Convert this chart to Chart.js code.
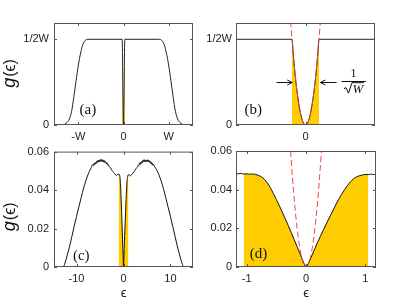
<!DOCTYPE html>
<html>
<head>
<meta charset="utf-8">
<script src="https://cdn.jsdelivr.net/npm/chart.js@4"></script>
<style>
  body { margin: 0; background: #fff; width: 415px; height: 301px; position: relative; overflow: hidden; }
  canvas { position: absolute; }
</style>
</head>
<body>
<canvas id="pa" width="205" height="148" style="left:0;top:0"></canvas>
<canvas id="pb" width="215" height="148" style="left:200px;top:0"></canvas>
<canvas id="pc" width="205" height="161" style="left:0;top:140px"></canvas>
<canvas id="pd" width="215" height="161" style="left:200px;top:140px"></canvas>
<script>
// (a) eps in units of W, g in units of 1/2W
var aEps = [-1.54, -1.35, -1.3, -1.25, -1.2, -1.15, -1.1, -1.05, -1.0, -0.95, -0.9, -0.85, -0.8, -0.03, 0, 0.03, 0.8, 0.85, 0.9, 0.95, 1.0, 1.05, 1.1, 1.15, 1.2, 1.25, 1.3, 1.35, 1.54];
var aG   = [0, 0, 0.01, 0.03, 0.07, 0.16, 0.33, 0.52, 0.70, 0.84, 0.94, 0.985, 1, 1, 0, 1, 1, 0.985, 0.94, 0.84, 0.70, 0.52, 0.33, 0.16, 0.07, 0.03, 0.01, 0, 0];
var aFillEps = [-0.03, 0, 0.03];
var aFillG   = [1, 0, 1];

// (b) zoom on the gap, eps in units of the gap half-width
var bEps = [-5.15, -1.0, -0.9, -0.8, -0.7, -0.6, -0.5, -0.4, -0.3, -0.2, -0.1, 0, 0.1, 0.2, 0.3, 0.4, 0.5, 0.6, 0.7, 0.8, 0.9, 1.0, 5.15];
var bG   = [1, 1, 0.81, 0.64, 0.49, 0.36, 0.25, 0.16, 0.09, 0.04, 0.01, 0, 0.01, 0.04, 0.09, 0.16, 0.25, 0.36, 0.49, 0.64, 0.81, 1, 1];
var bParEps = [-1.1, -1.0, -0.9, -0.8, -0.7, -0.6, -0.5, -0.4, -0.3, -0.2, -0.1, 0, 0.1, 0.2, 0.3, 0.4, 0.5, 0.6, 0.7, 0.8, 0.9, 1.0, 1.1];
var bParG   = [1.21, 1, 0.81, 0.64, 0.49, 0.36, 0.25, 0.16, 0.09, 0.04, 0.01, 0, 0.01, 0.04, 0.09, 0.16, 0.25, 0.36, 0.49, 0.64, 0.81, 1, 1.21];

// (c)/(d) numerical density of states, left band / gap region / right band
var leftEps = [-14.8, -13.0, -12.7, -12.4, -12.0, -11.5, -11.0, -10.5, -10.0, -9.5, -9.0, -8.5, -8.0, -7.5, -7.0,
  -6.5, -6.375, -6.25, -6.125, -6.0, -5.875, -5.75, -5.625, -5.5, -5.375, -5.25, -5.125, -5.0, -4.875, -4.75, -4.625, -4.5, -4.375, -4.25, -4.125, -4.0, -3.875, -3.75, -3.625, -3.5, -3.375, -3.25, -3.125, -3.0,
  -2.75, -2.5, -2.25, -2.0, -1.75, -1.5, -1.35];
var leftG = [0, 0, 0.0005, 0.0025, 0.006, 0.0105, 0.0158, 0.0212, 0.0263, 0.0313, 0.0362, 0.0410, 0.0450, 0.0484, 0.0510,
  0.0532, 0.0527, 0.0540, 0.0532, 0.0543, 0.0536, 0.0549, 0.0543, 0.0554, 0.0545, 0.0555, 0.0546, 0.0558, 0.0549, 0.0559, 0.0550, 0.0558, 0.0546, 0.0555, 0.0544, 0.0553, 0.0541, 0.0545, 0.0535, 0.0542, 0.0530, 0.0533, 0.0523, 0.0522,
  0.0515, 0.0503, 0.0497, 0.0487, 0.0482, 0.0475, 0.0478];
var coreEps = [-1.2, -1.15, -1.1, -1.05, -1.0, -0.95, -0.9, -0.85, -0.8, -0.75, -0.7, -0.65, -0.6, -0.55, -0.5, -0.45, -0.4, -0.35, -0.3, -0.25, -0.2, -0.15, -0.1, -0.05,
  0, 0.05, 0.1, 0.15, 0.2, 0.25, 0.3, 0.35, 0.4, 0.45, 0.5, 0.55, 0.6, 0.65, 0.7, 0.75, 0.8, 0.85, 0.9, 0.95, 1.0, 1.05, 1.1, 1.15, 1.2];
var coreG = [0.0483, 0.0482, 0.0484, 0.0481, 0.0482, 0.0480, 0.0481, 0.0479, 0.0474, 0.0466, 0.0453, 0.0434, 0.0410, 0.0380, 0.0349, 0.0317, 0.0284, 0.0250, 0.0215, 0.0179, 0.0142, 0.0105, 0.0068, 0.0030,
  0.0003, 0.0025, 0.0060, 0.0096, 0.0131, 0.0164, 0.0196, 0.0228, 0.0259, 0.0290, 0.0321, 0.0350, 0.0376, 0.0400, 0.0422, 0.0441, 0.0456, 0.0466, 0.0472, 0.0476, 0.0479, 0.0478, 0.0480, 0.0478, 0.0480];
var rightEps = [1.35, 1.5, 1.75, 2.0, 2.25, 2.5, 2.75,
  3.0, 3.125, 3.25, 3.375, 3.5, 3.625, 3.75, 3.875, 4.0, 4.125, 4.25, 4.375, 4.5, 4.625, 4.75, 4.875, 5.0, 5.125, 5.25, 5.375, 5.5, 5.625, 5.75, 5.875, 6.0, 6.125, 6.25, 6.375, 6.5,
  7.0, 7.5, 8.0, 8.5, 9.0, 9.5, 10.0, 10.5, 11.0, 11.5, 12.0, 12.4, 12.7, 13.0, 14.8];
var rightG = [0.0477, 0.0474, 0.0481, 0.0488, 0.0496, 0.0505, 0.0514,
  0.0522, 0.0530, 0.0527, 0.0539, 0.0533, 0.0546, 0.0537, 0.0548, 0.0541, 0.0554, 0.0547, 0.0558, 0.0548, 0.0557, 0.0547, 0.0556, 0.0548, 0.0558, 0.0547, 0.0555, 0.0545, 0.0552, 0.0539, 0.0546, 0.0534, 0.0540, 0.0529, 0.0535, 0.0527,
  0.0508, 0.0482, 0.0448, 0.0408, 0.0360, 0.0311, 0.0262, 0.0210, 0.0157, 0.0104, 0.0058, 0.0024, 0.0005, 0, 0];
var cEps = leftEps.concat(coreEps, rightEps);
var cG = leftG.concat(coreG, rightG);
var gapEdge = 1.05;
var dParEps = [-0.27, -0.24, -0.21, -0.18, -0.15, -0.12, -0.09, -0.06, -0.03, 0, 0.03, 0.06, 0.09, 0.12, 0.15, 0.18, 0.21, 0.24, 0.27];
var dParG   = [0.0647, 0.0511, 0.0392, 0.0288, 0.0200, 0.0128, 0.0072, 0.0032, 0.0008, 0, 0.0008, 0.0032, 0.0072, 0.0128, 0.0200, 0.0288, 0.0392, 0.0511, 0.0647];

// ticks
var aXTicks = [-1, 0, 1], aXLabels = ['-W', '0', 'W'];
var topYTicks = [0, 1], topYLabels = ['0', '1/2W'];
var bXTicks = [0], bXLabels = ['0'];
var cXTicks = [-10, 0, 10], cXLabels = ['-10', '0', '10'];
var dXTicks = [-1, 0, 1], dXLabels = ['-1', '0', '1'];
var botYTicks = [0, 0.02, 0.04, 0.06], botYLabels = ['0', '0.02', '0.04', '0.06'];

var GOLD = '#ffcc00', RED = '#f04848';
var tickFont = { family: 'Liberation Sans, Arial, sans-serif', size: 11 };

function pts(xs, ys) { return xs.map(function (x, i) { return { x: x, y: ys[i] }; }); }
function curve(xs, ys, color, dash) {
  return { data: pts(xs, ys), borderColor: color, borderWidth: 1, borderDash: dash || [], pointRadius: 0, fill: false, cubicInterpolationMode: 'monotone' };
}
function area(xs, ys) {
  return { data: pts(xs, ys), borderWidth: 0, pointRadius: 0, fill: 'origin', backgroundColor: GOLD, tension: 0 };
}

var framePlugin = {
  id: 'frame',
  afterDatasetsDraw: function (c) {
    var ctx = c.ctx, a = c.chartArea, sx = c.scales.x, sy = c.scales.y;
    ctx.save();
    ctx.strokeStyle = '#555';
    ctx.lineWidth = 1;
    ctx.strokeRect(a.left + 0.5, a.top + 0.5, a.right - a.left - 1, a.bottom - a.top - 1);
    ctx.beginPath();
    sx.ticks.forEach(function (t) {
      var p = Math.round(sx.getPixelForValue(t.value)) + 0.5;
      ctx.moveTo(p, a.bottom); ctx.lineTo(p, a.bottom - 3);
      ctx.moveTo(p, a.top); ctx.lineTo(p, a.top + 3);
    });
    sy.ticks.forEach(function (t) {
      var p = Math.round(sy.getPixelForValue(t.value)) + 0.5;
      ctx.moveTo(a.left, p); ctx.lineTo(a.left + 3, p);
      ctx.moveTo(a.right, p); ctx.lineTo(a.right - 3, p);
    });
    ctx.stroke();
    ctx.restore();
  }
};

function notePlugin(text, x, y) {
  return {
    id: 'note',
    afterDatasetsDraw: function (c) {
      var ctx = c.ctx;
      ctx.save();
      ctx.font = '15px "Liberation Serif", "Times New Roman", serif';
      ctx.fillStyle = '#111';
      ctx.textAlign = 'center';
      ctx.textBaseline = 'middle';
      ctx.fillText(text, c.scales.x.getPixelForValue(x), c.scales.y.getPixelForValue(y));
      ctx.restore();
    }
  };
}

function ylabPlugin(shift) {
  return {
    id: 'ylab',
    afterDraw: function (c) {
      var ctx = c.ctx, a = c.chartArea;
      var cy = (a.top + a.bottom) / 2 + shift;
      ctx.save();
      ctx.translate(15, cy);
      ctx.rotate(-Math.PI / 2);
      ctx.fillStyle = '#111';
      ctx.textBaseline = 'alphabetic';
      var f1 = 'italic 18px "Liberation Sans", Arial, sans-serif';
      var f2 = '16px "Liberation Sans", "DejaVu Sans", sans-serif';
      ctx.font = f1; var w1 = ctx.measureText('g').width;
      ctx.font = f2; var w2 = ctx.measureText('(\u03f5)').width;
      var x0 = -(w1 + w2) / 2;
      ctx.font = f1; ctx.fillText('g', x0, 0);
      ctx.font = f2; ctx.fillText('(\u03f5)', x0 + w1 + 1, 0);
      ctx.restore();
    }
  };
}

var gapPlugin = {
  id: 'gapNote',
  afterDatasetsDraw: function (c) {
    var ctx = c.ctx, sx = c.scales.x, sy = c.scales.y;
    function arrow(x0, x1, yv) {
      var y = Math.round(sy.getPixelForValue(yv)) + 0.5;
      var p0 = sx.getPixelForValue(x0), p1 = sx.getPixelForValue(x1);
      var d = p1 > p0 ? 1 : -1;
      ctx.beginPath();
      ctx.moveTo(p0, y); ctx.lineTo(p1, y);
      ctx.moveTo(p1 - d * 5, y - 2.5); ctx.lineTo(p1, y); ctx.lineTo(p1 - d * 5, y + 2.5);
      ctx.stroke();
    }
    ctx.save();
    ctx.strokeStyle = '#111'; ctx.fillStyle = '#111'; ctx.lineWidth = 1;
    arrow(-2.15, -0.98, 0.5);
    arrow(2.3, 1.1, 0.5);
    // 1/sqrt(W)
    var cx = sx.getPixelForValue(3.55);
    ctx.textAlign = 'center'; ctx.textBaseline = 'alphabetic';
    ctx.font = '12px "Liberation Serif", "Times New Roman", serif';
    ctx.fillText('1', cx, sy.getPixelForValue(0.564));
    var by = Math.round(sy.getPixelForValue(0.517)) + 0.5;
    ctx.beginPath(); ctx.moveTo(sx.getPixelForValue(2.67), by); ctx.lineTo(sx.getPixelForValue(4.47), by); ctx.stroke();
    ctx.font = 'italic 13px "Liberation Serif", "Times New Roman", serif';
    var ww = ctx.measureText('W').width;
    var yb = sy.getPixelForValue(0.377);
    var x0 = cx - (ww + 8) / 2;
    ctx.beginPath();
    ctx.moveTo(x0, yb - 4); ctx.lineTo(x0 + 2, yb - 5); ctx.lineTo(x0 + 4.5, yb + 0.5);
    ctx.lineTo(x0 + 8, yb - 10); ctx.lineTo(x0 + 9 + ww, yb - 10);
    ctx.stroke();
    ctx.textAlign = 'left';
    ctx.fillText('W', x0 + 8.5, yb);
    ctx.restore();
  }
};

function makeChart(id, o) {
  return new Chart(document.getElementById(id), {
    type: 'line',
    data: { datasets: o.datasets },
    options: {
      responsive: false,
      animation: false,
      devicePixelRatio: 1,
      layout: { padding: o.pad },
      plugins: { legend: { display: false }, tooltip: { enabled: false } },
      scales: {
        x: {
          type: 'linear', min: o.xMin, max: o.xMax,
          grid: { display: false, drawTicks: false }, border: { display: false },
          afterBuildTicks: function (s) { s.ticks = o.xTicks.map(function (v) { return { value: v }; }); },
          afterFit: function (s) { s.height = o.xH; },
          ticks: { padding: 5, color: '#222', font: tickFont, maxRotation: 0, autoSkip: false,
                   callback: function (v, i) { return o.xLabels[i]; } },
          title: { display: !!o.xTitle, text: '\u03f5', color: '#222', padding: 0,
                   font: { family: 'Liberation Sans, DejaVu Sans, sans-serif', size: 13 } }
        },
        y: {
          type: 'linear', min: o.yMin, max: o.yMax,
          grid: { display: false, drawTicks: false }, border: { display: false },
          afterBuildTicks: function (s) { s.ticks = o.yTicks.map(function (v) { return { value: v }; }); },
          afterFit: function (s) { s.width = o.yW; },
          ticks: { padding: o.yPad, color: '#222', font: tickFont, autoSkip: false,
                   callback: function (v, i) { return o.yLabels[i]; } }
        }
      }
    },
    plugins: [framePlugin].concat(o.plugins || [])
  });
}

function inGap(xs, ys) {
  var fx = [], fy = [];
  xs.forEach(function (x, i) { if (Math.abs(x) <= gapEdge + 1e-9) { fx.push(x); fy.push(ys[i]); } });
  return area(fx, fy);
}

makeChart('pa', {
  pad: { left: 0, top: 23, right: 12, bottom: 0 }, yW: 54, xH: 23, yPad: 5,
  xMin: -1.54, xMax: 1.54, yMin: 0, yMax: 1.19,
  xTicks: aXTicks, xLabels: aXLabels, yTicks: topYTicks, yLabels: topYLabels,
  datasets: [curve(aEps, aG, '#222'), area(aFillEps, aFillG)],
  plugins: [notePlugin('(a)', -0.79, 0.175), ylabPlugin(0)]
});

makeChart('pb', {
  pad: { left: 0, top: 23, right: 40, bottom: 0 }, yW: 36, xH: 23, yPad: 4,
  xMin: -5.15, xMax: 5.15, yMin: 0, yMax: 1.19,
  xTicks: bXTicks, xLabels: bXLabels, yTicks: topYTicks, yLabels: topYLabels,
  datasets: [curve(bParEps, bParG, RED, [6, 3]), curve(bEps, bG, '#222'), area(bEps.slice(1, -1), bG.slice(1, -1))],
  plugins: [notePlugin('(b)', -3.87, 0.175), gapPlugin]
});

makeChart('pc', {
  pad: { left: 0, top: 11, right: 12, bottom: 0 }, yW: 54, xH: 34, yPad: 5, xTitle: true,
  xMin: -14.8, xMax: 14.8, yMin: 0, yMax: 0.06,
  xTicks: cXTicks, xLabels: cXLabels, yTicks: botYTicks, yLabels: botYLabels,
  datasets: [curve(cEps, cG, '#111'), inGap(cEps, cG)],
  plugins: [notePlugin('(c)', -9.0, 0.0057), ylabPlugin(8)]
});

makeChart('pd', {
  pad: { left: 0, top: 11, right: 39, bottom: 0 }, yW: 36, xH: 34, yPad: 4, xTitle: true,
  xMin: -1.18, xMax: 1.18, yMin: 0, yMax: 0.06,
  xTicks: dXTicks, xLabels: dXLabels, yTicks: botYTicks, yLabels: botYLabels,
  datasets: [curve(dParEps, dParG, RED, [6, 3]), curve(cEps, cG, '#111'), inGap(cEps, cG)],
  plugins: [notePlugin('(d)', -0.80, 0.0067)]
});
</script>
</body>
</html>
